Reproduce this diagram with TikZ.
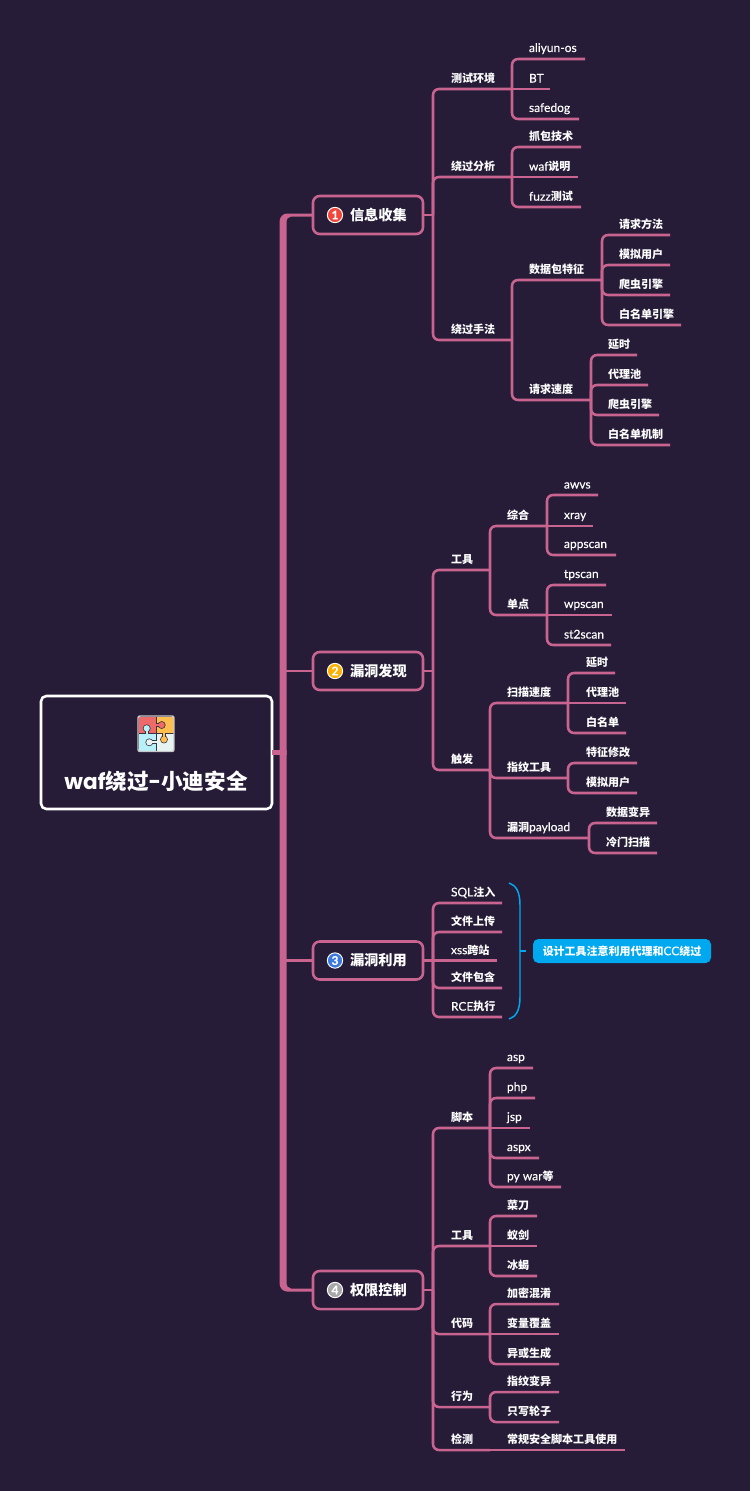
\documentclass[tikz,border=0pt]{standalone}
\usepackage{fontspec}
\usetikzlibrary{calc}
\setmainfont{Lato}[FakeBold=0.25]
\newfontfamily\cjk{Noto Sans CJK SC}[Scale=0.92]
\newfontfamily\popp{Poppins}[Scale=0.92]
\newcommand{\z}[1]{{\cjk\bfseries #1}}
\newlength\pxu \setlength\pxu{0.75pt}
\definecolor{bgc}{HTML}{261C38}
\definecolor{pinkc}{HTML}{C8648F}
\definecolor{bluec}{HTML}{00A8F0}
\definecolor{framec}{HTML}{C9C9C9}
\definecolor{darkc}{HTML}{3A3440}
\definecolor{badgeA}{HTML}{F0473A}
\definecolor{badgeB}{HTML}{FFB000}
\definecolor{badgeC}{HTML}{3B78E0}
\definecolor{badgeD}{HTML}{A8A8A8}
\definecolor{pzA}{HTML}{EE6A6A}
\definecolor{pzB}{HTML}{FFBE4D}
\definecolor{pzC}{HTML}{B8F0FA}
\definecolor{pzD}{HTML}{E6F5F2}
\tikzset{
  link/.style={draw=pinkc,line width=1.9pt,rounded corners=4.5pt},
  tnbox/.style={anchor=south west,inner sep=0pt,outer sep=0pt,minimum height=15.75pt,text=white,font=\fontsize{9}{11}\selectfont},
  mainbox/.style={draw=pinkc,line width=1.9pt,rounded corners=5pt,inner sep=0pt,outer sep=0pt,minimum width=82.5pt,minimum height=28.5pt,text=white,font=\fontsize{11.6}{13}\selectfont},
  rootbox/.style={draw=white,line width=1.9pt,rounded corners=4pt,inner sep=0pt,outer sep=0pt,minimum width=173.25pt,minimum height=84.75pt},
  badge/.style={circle,draw=white,line width=0.7pt,inner sep=0pt,minimum size=11.5pt,text=white,font=\fontsize{9}{9}\selectfont\bfseries},
  callout/.style={fill=bluec,rounded corners=4pt,inner sep=0pt,minimum width=133.5pt,minimum height=18pt,text=white,font=\fontsize{8.95}{10}\selectfont},
  bracel/.style={draw=bluec,line width=1.1pt},
  trunkf/.style={fill=pinkc,draw=none},
  seam/.style={draw=darkc,line width=0.6pt}
}
% name, x-start, x-end, y of the line, text offset, text
\newcommand{\tn}[6]{\node[tnbox] (#1) at (#2,#4) {\makebox[\dimexpr#3\pxu-#2\pxu\relax][l]{\hspace*{#5\pxu}\vphantom{\z{国}}#6}};}
\newcommand{\lk}[2]{\draw[link] (#1.south east) |- (#2.south east);}
\newcommand{\ls}[2]{\draw[link] (#1.south east) -- (#2.south east);}
\newcommand{\jk}[2]{\draw[link] (#1) |- (#2.south east);}
% name, centre y, text, badge colour, digit
\newcommand{\mainn}[5]{%
  \node[mainbox] (#1) at (368,#2) {\makebox[82.5pt][l]{\hspace*{37\pxu}\z{#3}}};
  \node[badge,fill=#4] (#1b) at (335,#2) {#5};
  \coordinate (#1j) at (433,#2);
  \draw[link] (#1.east) -- (#1j);
}
% one half of the trunk, running from a main topic to the height of the root
\newcommand{\trunkend}[2]{%
  \fill[trunkf,shift={(#1.west)},yscale=#2] (-33.5,540) -- (-33.5,7) .. controls (-33.5,2) and (-30,-1.5) .. (-26,-1.5) -- (0,-1.5) -- (0,1.5) -- (-22,1.5) .. controls (-25,1.5) and (-26.5,4) .. (-26.5,8) -- (-26.5,540) -- cycle;
}
% puzzle knob: disc centre, seam point, colour
\newcommand{\knob}[3]{%
  \fill[darkc] (#1) circle[radius=3.9];
  \draw[darkc,line width=3pt] (#1) -- (#2);
  \fill[#3] (#1) circle[radius=3.1];
  \draw[#3,line width=1.7pt,shorten >=-1.2pt] (#1) -- (#2);
}
\begin{document}
\begin{tikzpicture}[x=0.75pt,y=-0.75pt]
\useasboundingbox[fill=bgc] (0,0) rectangle (750,1491);

% root
\node[rootbox] (root) at (156.5,752.5) {};
\node[inner sep=0pt,text=white,font=\fontsize{17.6}{20}\selectfont] (roott) at (156,781) {{\popp\bfseries waf}\z{绕过}{\popp\bfseries -}\z{小迪安全}};

% puzzle icon
\fill[pzA] (138.5,716.5) rectangle (156,733.5);
\fill[pzB] (156,716.5) rectangle (173.5,733.5);
\fill[pzC] (138.5,733.5) rectangle (156,751);
\fill[pzD] (156,733.5) rectangle (173.5,751);
\draw[seam] (138.5,733.5) -- (173.5,733.5) (156,716.5) -- (156,751);
\knob{161.7,725}{156,725}{pzA}
\knob{146.7,728.3}{146.7,733.5}{pzC}
\knob{149.3,742.3}{156,742.3}{pzD}
\knob{164,739.5}{164,733.5}{pzB}
\draw[line width=1.1pt,draw=framec,rounded corners=1.5pt] (138,716) rectangle (174,751.5);

% main topics
\mainn{mA}{215}{信息收集}{badgeA}{1}
\mainn{mB}{671}{漏洞发现}{badgeB}{2}
\mainn{mC}{960.5}{漏洞利用}{badgeC}{3}
\mainn{mD}{1290}{权限控制}{badgeD}{4}

% trunk
\coordinate (tt) at (283,250);
\trunkend{mA}{1}
\trunkend{mD}{-1}
\draw[draw=pinkc,line width=3.9pt] (root.east) -- (root.east -| tt);
\draw[link] (mB.west) -- (mB.west -| tt);
\draw[link] (mC.west) -- (mC.west -| tt);

% branch 1
\tn{a1}{433}{512}{89}{18}{\z{测试环境}}
\tn{a2}{433}{512}{177}{18}{\z{绕过分析}}
\tn{a3}{433}{512}{340}{18}{\z{绕过手法}}
\jk{mAj}{a1}\jk{mAj}{a2}\jk{mAj}{a3}
\tn{a11}{512}{585}{59}{17}{aliyun-os}
\tn{a12}{512}{550}{89}{17}{BT}
\tn{a13}{512}{579}{119}{17}{safedog}
\lk{a1}{a11}\ls{a1}{a12}\lk{a1}{a13}
\tn{a21}{512}{581}{147}{17}{\z{抓包技术}}
\tn{a22}{512}{578}{177}{17}{waf\z{说明}}
\tn{a23}{512}{581}{207}{17}{fuzz\z{测试}}
\lk{a2}{a21}\ls{a2}{a22}\lk{a2}{a23}
\tn{a31}{512}{602}{280}{17}{\z{数据包特征}}
\tn{a32}{512}{591}{400}{17}{\z{请求速度}}
\lk{a3}{a31}\lk{a3}{a32}
\tn{a311}{602}{670}{235}{17}{\z{请求方法}}
\tn{a312}{602}{670}{265}{17}{\z{模拟用户}}
\tn{a313}{602}{670}{295}{17}{\z{爬虫引擎}}
\tn{a314}{602}{681}{325}{17}{\z{白名单引擎}}
\lk{a31}{a311}\lk{a31}{a312}\lk{a31}{a313}\lk{a31}{a314}
\tn{a321}{591}{637}{355}{17}{\z{延时}}
\tn{a322}{591}{648}{385}{17}{\z{代理池}}
\tn{a323}{591}{659}{415}{17}{\z{爬虫引擎}}
\tn{a324}{591}{670}{445}{17}{\z{白名单机制}}
\lk{a32}{a321}\lk{a32}{a322}\lk{a32}{a323}\lk{a32}{a324}

% branch 2
\tn{b1}{433}{490}{570}{18}{\z{工具}}
\tn{b2}{433}{490}{770}{18}{\z{触发}}
\jk{mBj}{b1}\jk{mBj}{b2}
\tn{b11}{490}{547}{526}{17}{\z{综合}}
\tn{b12}{490}{547}{615}{17}{\z{单点}}
\lk{b1}{b11}\lk{b1}{b12}
\tn{b111}{547}{598}{495}{17}{awvs}
\tn{b112}{547}{593}{526}{17}{xray}
\tn{b113}{547}{616}{555}{17}{appscan}
\lk{b11}{b111}\ls{b11}{b112}\lk{b11}{b113}
\tn{b121}{547}{606}{585}{17}{tpscan}
\tn{b122}{547}{612}{615}{17}{wpscan}
\tn{b123}{547}{611}{645}{17}{st2scan}
\lk{b12}{b121}\ls{b12}{b122}\lk{b12}{b123}
\tn{b21}{490}{568}{703}{17}{\z{扫描速度}}
\tn{b22}{490}{568}{778}{17}{\z{指纹工具}}
\tn{b23}{490}{589}{838}{17}{\z{漏洞}payload}
\lk{b2}{b21}\lk{b2}{b22}\lk{b2}{b23}
\tn{b211}{568}{615}{673}{18}{\z{延时}}
\tn{b212}{568}{626}{703}{18}{\z{代理池}}
\tn{b213}{568}{626}{733}{18}{\z{白名单}}
\lk{b21}{b211}\ls{b21}{b212}\lk{b21}{b213}
\tn{b221}{568}{637}{763}{18}{\z{特征修改}}
\tn{b222}{568}{637}{793}{18}{\z{模拟用户}}
\lk{b22}{b221}\lk{b22}{b222}
\tn{b231}{589}{657}{823}{17}{\z{数据变异}}
\tn{b232}{589}{657}{853}{17}{\z{冷门扫描}}
\lk{b23}{b231}\lk{b23}{b232}

% branch 3
\tn{c1}{433}{502}{903}{18}{SQL\z{注入}}
\tn{c2}{433}{502}{932}{18}{\z{文件上传}}
\tn{c3}{433}{497}{960.5}{18}{xss\z{跨站}}
\tn{c4}{433}{502}{988}{18}{\z{文件包含}}
\tn{c5}{433}{502}{1017}{18}{RCE\z{执行}}
\jk{mCj}{c1}\jk{mCj}{c2}\draw[link] (mCj) -- (c3.south east);\jk{mCj}{c4}\jk{mCj}{c5}
\node[callout] (note) at (622,951) {\z{设计工具注意利用代理和}CC\z{绕过}};
\coordinate (brT) at (509,883);
\coordinate (brB) at (509,1019);
\coordinate (brM) at (520,951);
\coordinate (brK) at (526,951);
\draw[bracel] (brT) .. controls (516,885) and (520,892) .. (520,905) -- (brM) -- (520,997) .. controls (520,1010) and (516,1017) .. (brB);
\draw[bracel] (brM) -- (brK);

% branch 4
\tn{d1}{433}{490}{1128}{18}{\z{脚本}}
\tn{d2}{433}{490}{1246}{18}{\z{工具}}
\tn{d3}{433}{490}{1334}{18}{\z{代码}}
\tn{d4}{433}{490}{1407}{18}{\z{行为}}
\tn{d5}{433}{490}{1450}{18}{\z{检测}}
\jk{mDj}{d1}\jk{mDj}{d2}\jk{mDj}{d3}\jk{mDj}{d4}\jk{mDj}{d5}
\tn{d11}{490}{533}{1068}{17}{asp}
\tn{d12}{490}{535}{1098}{17}{php}
\tn{d13}{490}{530}{1128}{17}{jsp}
\tn{d14}{490}{539}{1158}{17}{aspx}
\tn{d15}{490}{561}{1187}{17}{py war\z{等}}
\lk{d1}{d11}\lk{d1}{d12}\ls{d1}{d13}\lk{d1}{d14}\lk{d1}{d15}
\tn{d21}{490}{537}{1216}{17}{\z{菜刀}}
\tn{d22}{490}{537}{1246}{17}{\z{蚁剑}}
\tn{d23}{490}{537}{1276}{17}{\z{冰蝎}}
\lk{d2}{d21}\ls{d2}{d22}\lk{d2}{d23}
\tn{d31}{490}{559}{1304}{17}{\z{加密混淆}}
\tn{d32}{490}{559}{1334}{17}{\z{变量覆盖}}
\tn{d33}{490}{559}{1364}{17}{\z{异或生成}}
\lk{d3}{d31}\ls{d3}{d32}\lk{d3}{d33}
\tn{d41}{490}{559}{1392}{17}{\z{指纹变异}}
\tn{d42}{490}{559}{1422}{17}{\z{只写轮子}}
\lk{d4}{d41}\lk{d4}{d42}
\tn{d51}{490}{625}{1450}{17}{\z{常规安全脚本工具使用}}
\ls{d5}{d51}
\end{tikzpicture}
\end{document}
